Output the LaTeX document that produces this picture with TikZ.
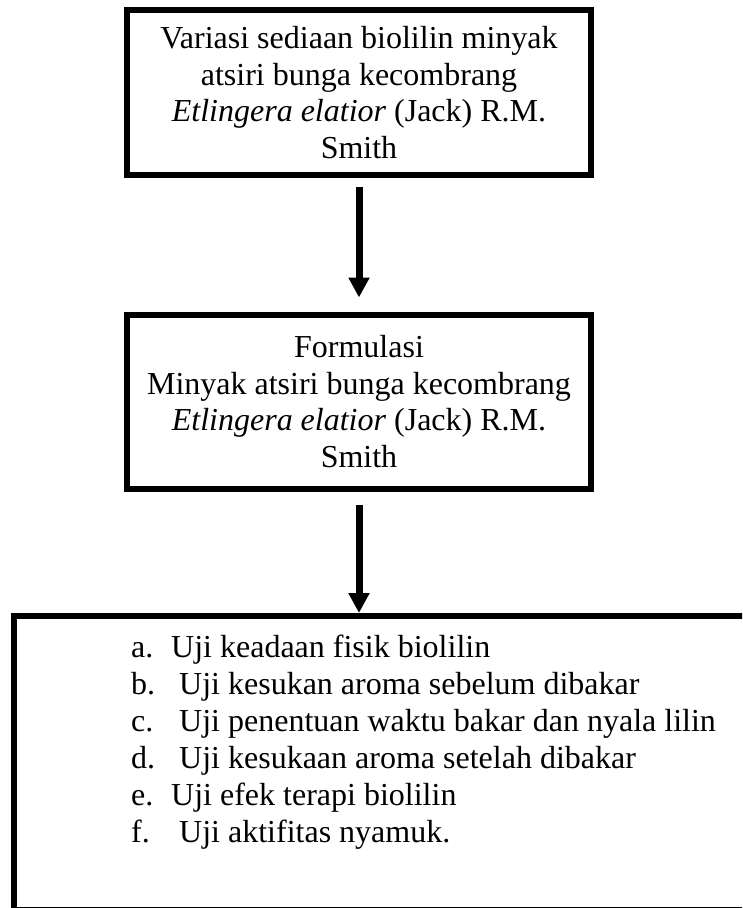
\documentclass[tikz,border=0pt]{standalone}
\usepackage{fontspec}
\setmainfont{Liberation Serif}
\usetikzlibrary{arrows.meta}
\begin{document}
\begin{tikzpicture}
        [x=1pt, y=-1pt,
         box/.style={rectangle, draw=black, line width=6pt, align=center, inner sep=0pt,
                     font=\fontsize{32}{36.8}\selectfont},
         item/.style={anchor=base west, inner sep=0pt, font=\fontsize{32}{36.8}\selectfont},
         flow/.style={line width=7pt, -{Triangle[width=20pt,length=20pt]}}]
        \clip (0,0) rectangle (742,908);
        \node[box, minimum width=464pt, minimum height=165pt] (variasi) at (359,92.5)
          {Variasi sediaan biolilin minyak\\ atsiri bunga kecombrang\\
           \textit{Etlingera elatior} (Jack) R.M.\\ Smith};
        \node[box, minimum width=464pt, minimum height=174pt] (formulasi) at (359,401.5)
          {Formulasi\\ Minyak atsiri bunga kecombrang\\
           \textit{Etlingera elatior} (Jack) R.M.\\ Smith};
        \node[box, minimum width=786pt, minimum height=294pt] (uji) at (407,763) {};
        \foreach \lbl/\txt/\dx [count=\i] in
            {a./Uji keadaan fisik biolilin/171,
             b./Uji kesukan aroma sebelum dibakar/179,
             c./Uji penentuan waktu bakar dan nyala lilin/179,
             d./Uji kesukaan aroma setelah dibakar/179,
             e./Uji efek terapi biolilin/171,
             f./Uji aktifitas nyamuk./179}
          \path node[item] (lbl\i) at (131,620+37*\i) {\lbl}
                node[item] (uji\i) at (\dx,620+37*\i) {\txt};
        \draw[flow, shorten <=9pt, shorten >=14pt] (variasi.south) -- (formulasi.north);
        \draw[flow, shorten <=13.5pt] (formulasi.south) -- (formulasi.south |- uji.north);
\end{tikzpicture}
\end{document}
